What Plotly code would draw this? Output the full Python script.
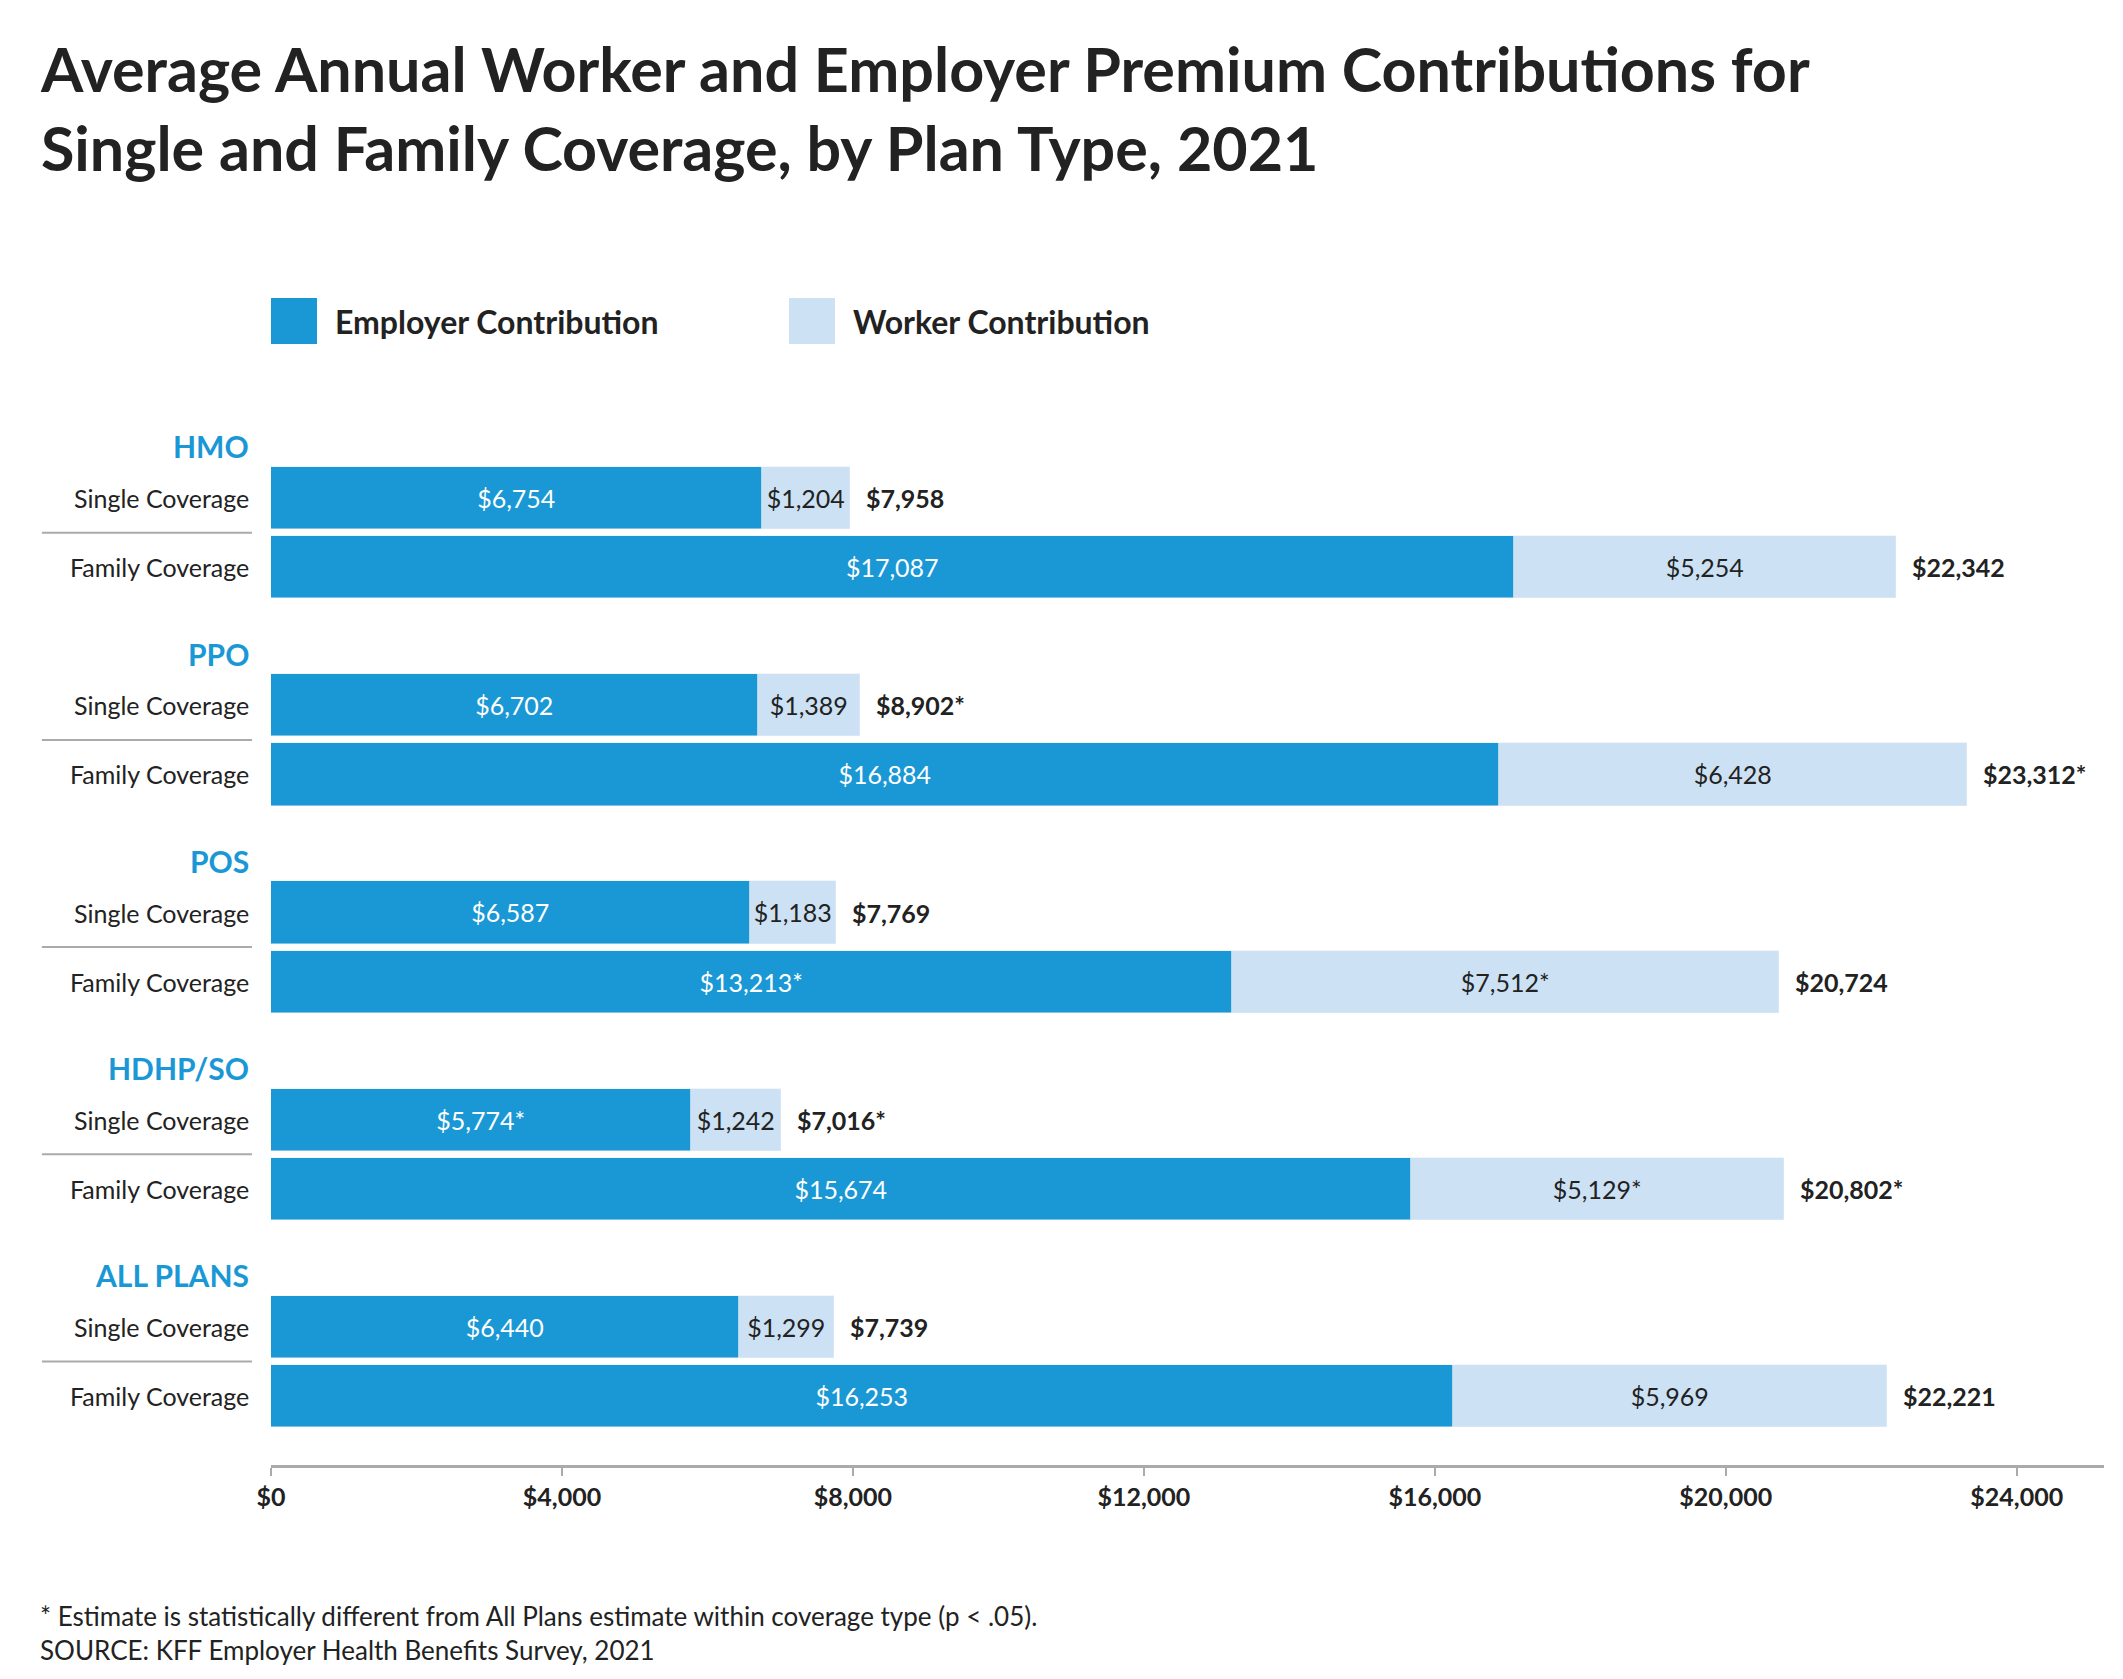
import plotly.graph_objects as go

plans = ["HMO", "PPO", "POS", "HDHP/SO", "ALL PLANS"]
coverage = ["Single Coverage", "Family Coverage"]
employer = [6754, 17087, 6702, 16884, 6587, 13213, 5774, 15674, 6440, 16253]
worker = [1204, 5254, 1389, 6428, 1183, 7512, 1242, 5129, 1299, 5969]
employer_lbl = ["$6,754", "$17,087", "$6,702", "$16,884", "$6,587", "$13,213*", "$5,774*", "$15,674", "$6,440", "$16,253"]
worker_lbl = ["$1,204", "$5,254", "$1,389", "$6,428", "$1,183", "$7,512*", "$1,242", "$5,129*", "$1,299", "$5,969"]
total_lbl = ["$7,958", "$22,342", "$8,902*", "$23,312*", "$7,769", "$20,724", "$7,016*", "$20,802*", "$7,739", "$22,221"]
ticks = [0, 4000, 8000, 12000, 16000, 20000, 24000]
tick_lbl = ["$0", "$4,000", "$8,000", "$12,000", "$16,000", "$20,000", "$24,000"]

BLUE = "#1a98d5"
LIGHT = "#cce1f4"
FONT = "Lato"
W, H = 2123, 1679
L, R, T, B = 263, 27, 406, 222
PW, PH = W - L - R, H - T - B

def px(x):
    return (x - L) / PW

def py(y):
    return (H - y - B) / PH

ys = []
for g in range(len(plans)):
    ys += [3 * g, 3 * g + 1]
totals = [e + w for e, w in zip(employer, worker)]

fig = go.Figure()
fig.add_bar(y=ys, x=employer, orientation="h", marker_color=BLUE, width=0.9,
            text=employer_lbl, textposition="inside", insidetextanchor="middle",
            textfont=dict(color="white", size=25, family=FONT), name="Employer Contribution")
fig.add_bar(y=ys, x=worker, orientation="h", marker_color=LIGHT, width=0.9,
            text=worker_lbl, textposition="inside", insidetextanchor="middle",
            textfont=dict(color="#222", size=25, family=FONT), name="Worker Contribution")

ann = []
shapes = []
for i, y in enumerate(ys):
    ann.append(dict(x=totals[i], y=y, xref="x", yref="y", text="<b>%s</b>" % total_lbl[i],
                    showarrow=False, xanchor="left", xshift=14,
                    font=dict(size=25, color="#222", family=FONT)))
    ann.append(dict(x=-0.011, y=y, xref="x domain", yref="y", text=coverage[i % 2],
                    showarrow=False, xanchor="right", font=dict(size=25, color="#222", family=FONT)))
for g, p in enumerate(plans):
    ann.append(dict(x=-0.011, y=3 * g - 0.75, xref="x domain", yref="y", text="<b>%s</b>" % p,
                    showarrow=False, xanchor="right", font=dict(size=30, color=BLUE, family=FONT)))
    shapes.append(dict(type="line", xref="x domain", yref="y", x0=-0.125, x1=-0.0104,
                       y0=3 * g + 0.5, y1=3 * g + 0.5, line=dict(color="#aaa", width=2)))

# legend
for x0p, name, col in [(263, "Employer Contribution", BLUE), (781, "Worker Contribution", LIGHT)]:
    shapes.append(dict(type="rect", xref="paper", yref="paper", x0=px(x0p), x1=px(x0p + 46),
                       y0=py(336), y1=py(290), fillcolor=col, line_width=0))
    ann.append(dict(x=px(x0p + 62), y=py(313), xref="paper", yref="paper", text="<b>%s</b>" % name,
                    showarrow=False, xanchor="left", yanchor="middle",
                    font=dict(size=32, color="#222", family=FONT)))

ann.append(dict(x=px(30), y=py(22), xref="paper", yref="paper", xanchor="left", yanchor="top",
                align="left", showarrow=False,
                text="<b>Average Annual Worker and Employer Premium Contributions for<br>Single and Family Coverage, by Plan Type, 2021</b>",
                font=dict(size=61, color="#222", family=FONT)))
ann.append(dict(x=px(30), y=py(1590), xref="paper", yref="paper", xanchor="left", yanchor="top",
                align="left", showarrow=False,
                text="* Estimate is statistically different from All Plans estimate within coverage type (p < .05).<br>SOURCE: KFF Employer Health Benefits Survey, 2021",
                font=dict(size=26, color="#222", family=FONT)))

fig.update_layout(
    width=W, height=H, barmode="stack", showlegend=False,
    paper_bgcolor="white", plot_bgcolor="white",
    margin=dict(l=L, r=R, t=T, b=B),
    annotations=ann, shapes=shapes, bargap=0,
    font=dict(family=FONT, color="#222"),
)
fig.update_xaxes(range=[0, 25200], tickvals=ticks, ticktext=["<b>%s</b>" % t for t in tick_lbl],
                 showgrid=False, zeroline=False, showline=True, linecolor="#aaa", linewidth=3,
                 ticks="outside", tickcolor="#aaa", ticklen=8, tickwidth=2,
                 tickfont=dict(size=25, color="#222", family=FONT))
fig.update_yaxes(range=[14, -1.22], showticklabels=False, showgrid=False, zeroline=False)
fig.write_html("out.html")
